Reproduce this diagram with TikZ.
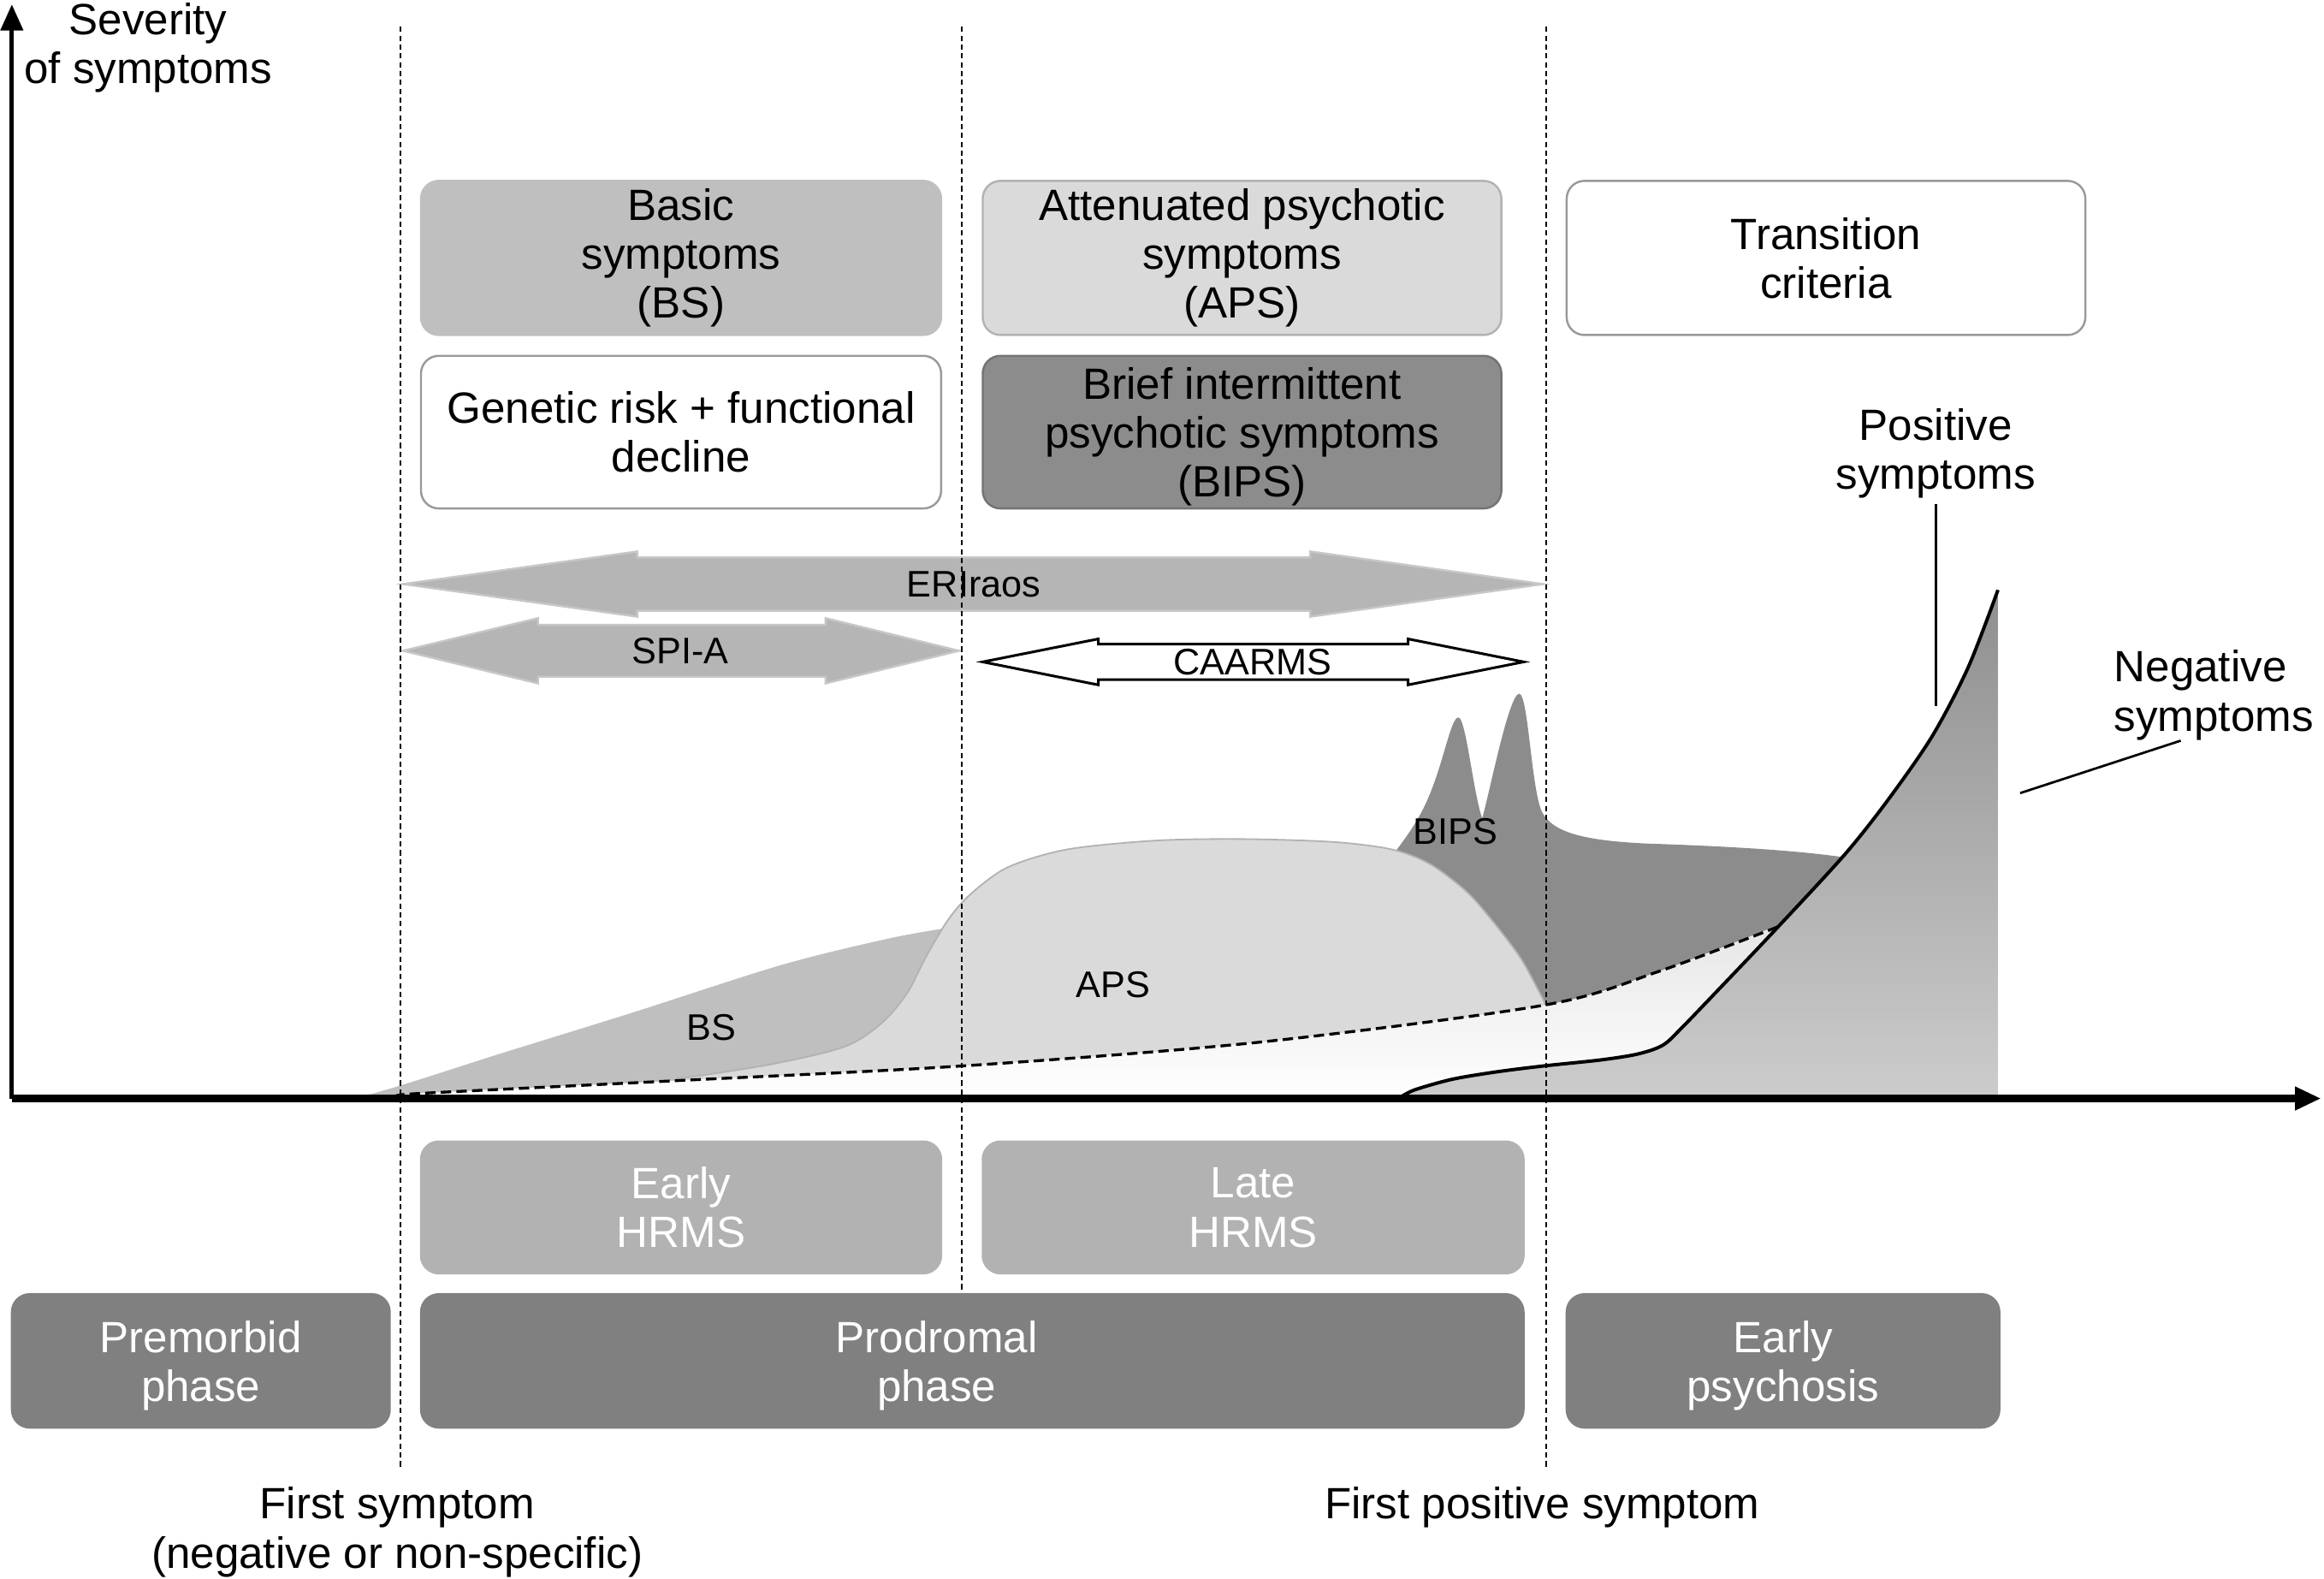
\documentclass[tikz,border=0pt]{standalone}
\usepackage{fontspec}
\setmainfont{Liberation Sans}
\usetikzlibrary{arrows.meta}
\definecolor{bsgray}{gray}{0.75}
\definecolor{apsgray}{gray}{0.855}
\definecolor{apsedge}{gray}{0.70}
\definecolor{bipsgray}{gray}{0.55}
\definecolor{bipsedge}{gray}{0.45}
\definecolor{hrmsgray}{gray}{0.70}
\definecolor{phasegray}{gray}{0.50}
\definecolor{arrowgray}{gray}{0.71}
\definecolor{arrowedge}{gray}{0.78}
\definecolor{edgegray}{gray}{0.60}
\definecolor{posdark}{gray}{0.56}
\definecolor{poslight}{gray}{0.80}
\definecolor{paleshade}{gray}{0.90}

\begin{document}
\begin{tikzpicture}[x=0.02cm,y=-0.02cm,
  txt/.style={font=\fontsize{16.8}{18.8}\selectfont,align=center},
  lbl/.style={font=\fontsize{14.2}{17}\selectfont,inner sep=1pt},
  box/.style={txt,rounded corners=0.24cm,line width=0.8pt,inner sep=0pt},
  hrmsbox/.style={box,fill=hrmsgray,draw=hrmsgray,text=white,minimum height=1.78cm,text depth=-4.5pt},
  phasebox/.style={box,fill=phasegray,draw=phasegray,text=white,minimum height=1.8cm,text depth=-3pt},
  bigarrow/.style={fill=arrowgray,draw=arrowedge,line width=0.8pt},
  openarrow/.style={fill=white,draw=black,line width=1pt},
  vline/.style={line width=0.6pt,dash pattern=on 2pt off 1.4pt},
  dashcurve/.style={line width=1.1pt,dash pattern=on 4pt off 2pt},
  axis/.style={-{Triangle[length=10pt,width=8.5pt]}}]

  \useasboundingbox (0,0) rectangle (1568,1064.6);

  \draw[bigarrow] (272,394) -- (430,372) -- (430,376) -- (884,376) -- (884,372) -- (1041,394)
    -- (884,416) -- (884,412) -- (430,412) -- (430,416) -- cycle;
  \draw[bigarrow] (272,439) -- (363,417) -- (363,421.5) -- (557,421.5) -- (557,417) -- (647,439)
    -- (557,461) -- (557,456.5) -- (363,456.5) -- (363,461) -- cycle;
  \draw[openarrow] (663,446.5) -- (741,431) -- (741,434.5) -- (950,434.5) -- (950,431) -- (1028,446.5)
    -- (950,462) -- (950,458.5) -- (741,458.5) -- (741,462) -- cycle;
  \draw (657,394) node[lbl] (eri) {ERIraos};
  \draw (459,439) node[lbl] (spia) {SPI-A};
  \draw (845,446.5) node[lbl] (caarms) {CAARMS};

  \fill[bsgray] plot[smooth] coordinates {(212,741) (250,738) (340,710) (427,683) (527,651) (600,633) (645,625)}
    -- (645,741) -- cycle;
  \fill[bipsgray] (930,590) .. controls (940,575) and (955,560) .. (965,535)
    .. controls (975,510) and (979,484) .. (984,484)
    .. controls (989,484) and (994,535) .. (1000,552)
    .. controls (1005,535) and (1018,468) .. (1025,468)
    .. controls (1031,468) and (1033,530) .. (1040,547)
    .. controls (1047,562) and (1070,567) .. (1110,569)
    .. controls (1170,571) and (1220,574) .. (1255,580)
    -- (1255,741) -- (930,741) -- cycle;
  \filldraw[fill=apsgray,draw=apsedge,line width=0.6pt] plot[smooth,tension=0.5] coordinates {(456,728) (520,718) (570,706)
    (595,690) (612,670) (625,645) (640,620) (655,603) (680,585) (720,573) (780,567) (839,566) (900,568)
    (939,573) (965,583) (990,602) (1010,625) (1027,648) (1042,676)} -- (1042,741) -- (456,741) -- cycle;
  \shade[top color=paleshade,bottom color=white] plot[smooth] coordinates {(262,741) (285,737.5) (456,729)
    (650,719) (850,703) (1042,678) (1120,655) (1205,622)} -- (1205,741) -- cycle;
  \shade[top color=posdark,bottom color=poslight] (940,741) -- plot[smooth] coordinates {(945,740) (955,735)
    (980,728) (1010,723) (1042,719) (1080,715) (1105,711) (1122,705) (1135,693) (1160,667) (1198,627)
    (1245,576) (1275,538) (1304,496) (1328,450) (1348,398)} -- (1348,741) -- cycle;
  \draw[dashcurve] plot[smooth] coordinates {(272,739) (285,737.5) (456,729) (650,719) (850,703)
    (1042,678) (1120,655) (1200,625)};
  \draw[line width=1.3pt] plot[smooth] coordinates {(945,740) (955,735) (980,728) (1010,723) (1042,719)
    (1080,715) (1105,711) (1122,705) (1135,693) (1160,667) (1198,627) (1245,576) (1275,538) (1304,496)
    (1328,450) (1348,398)};
  \draw (480,693) node[lbl] (bsarea) {BS};
  \draw (751,664) node[lbl] (apsarea) {APS};
  \draw (982,561) node[lbl] (bipsarea) {BIPS};

  \draw[vline] (270,18) -- (270,990);
  \draw[vline] (649,18) -- (649,873);
  \draw[vline] (1043,18) -- (1043,990);

  \coordinate (o) at (8,741);
  \coordinate (ytop) at (8,3);
  \coordinate (xend) at (1566,741);
  \draw[axis,line width=1.6pt] (o) -- (ytop);
  \draw[axis,line width=3pt] (o) -- (xend);
  \draw (100,32) node[txt] (sev) {Severity\\of symptoms};

  \draw (459.5,174) node[box,fill=bsgray,draw=bsgray,minimum width=7.02cm,minimum height=2.08cm] (bs) {Basic\\symptoms\\(BS)};
  \draw (838,174) node[box,fill=apsgray,draw=apsedge,minimum width=7cm,minimum height=2.08cm] (aps) {Attenuated psychotic\\symptoms\\(APS)};
  \draw (1232,174) node[box,fill=white,draw=edgegray,minimum width=7cm,minimum height=2.08cm] (trans) {Transition\\criteria};
  \draw (459.5,291.5) node[box,fill=white,draw=edgegray,minimum width=7.02cm,minimum height=2.06cm] (gen) {Genetic risk + functional\\decline};
  \draw (838,291.5) node[box,fill=bipsgray,draw=bipsedge,minimum width=7cm,minimum height=2.06cm,text depth=-1.5pt] (bips) {Brief intermittent\\psychotic symptoms\\(BIPS)};

  \draw (459.5,814.5) node[hrmsbox,minimum width=7.02cm] (early) {Early\\HRMS};
  \draw (845.5,814.5) node[hrmsbox,minimum width=7.3cm] (late) {Late\\HRMS};
  \draw (135.5,918) node[phasebox,minimum width=5.1cm] (premorbid) {Premorbid\\phase};
  \draw (656,918) node[phasebox,minimum width=14.88cm] (prodromal) {};
  \draw (632,918) node[txt,text=white,text depth=-3pt] (prodromaltxt) {Prodromal\\phase};
  \draw (1203,918) node[phasebox,minimum width=5.84cm] (psychosis) {Early\\psychosis};

  \draw (268,1033.5) node[txt] (first) {First symptom\\(negative or non-specific)};
  \draw (1040.5,1017) node[txt] (firstpos) {First positive symptom};

  \draw (1306,306) node[txt,inner sep=2pt] (pos) {Positive\\symptoms};
  \draw (1426,469) node[txt,align=left,anchor=west,inner sep=0pt] (neg) {Negative\\symptoms};
  \coordinate (postip) at (1306,476);
  \coordinate (negtip) at (1363,535);
  \draw[line width=0.9pt] (pos) -- (postip);
  \draw[line width=0.9pt] (neg.234) -- (negtip);
\end{tikzpicture}
\end{document}
